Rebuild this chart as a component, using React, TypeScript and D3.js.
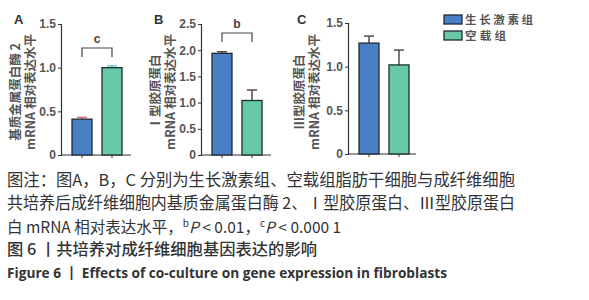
import React, { useEffect, useRef } from "react";
import * as d3 from "d3";

const categories = ["生长激素组", "空载组"];
const panelLetters = ["A", "B", "C"];
const growthHormone = [0.41, 1.94, 1.27];
const emptyVector = [1.0, 1.04, 1.02];
const errGrowth = [0.02, 0.03, 0.08];
const errEmpty = [0.02, 0.2, 0.17];
const yMax = [1.5, 2.5, 1.5];
const yTicks = [
  [0, 0.5, 1.0, 1.5],
  [0, 0.5, 1.0, 1.5, 2.0, 2.5],
  [0, 0.5, 1.0, 1.5],
];
const titleLine1 = ["基质金属蛋白酶 2", "Ⅰ型胶原蛋白", "Ⅲ型胶原蛋白"];
const titleLine2 = "mRNA 相对表达水平";
const sigLabels = ["c", "b", ""];
const captionLines = [
  "图注：图A，B，C 分别为生长激素组、空载组脂肪干细胞与成纤维细胞",
  "共培养后成纤维细胞内基质金属蛋白酶 2、Ⅰ型胶原蛋白、Ⅲ型胶原蛋白",
];
const captionLine3a = "白 mRNA 相对表达水平，";
const figTitleZh = "图 6 丨共培养对成纤维细胞基因表达的影响";
const figTitleEn = "Figure 6 丨 Effects of co-culture on gene expression in fibroblasts";

const BLUE = "#4a7fc6";
const GREEN = "#68c9a6";
const OUTLINE = "#1e2a36";

export default function App() {
  const ref = useRef<SVGSVGElement>(null);

  useEffect(() => {
    const svg = d3.select(ref.current);
    svg.selectAll("*").remove();

    const layout = [
      { ax: 61, top: 24, base: 155, xEnd: 131, t1: 15, t2: 30, letterX: 14 },
      { ax: 201, top: 24, base: 155, xEnd: 271, t1: 155, t2: 170, letterX: 154 },
      { ax: 348, top: 23, base: 154, xEnd: 416, t1: 299, t2: 314, letterX: 297 },
    ];
    const errColorsGH = ["#e0607a", "#5a4a44", "#5a4a44"];
    const errColorsEV = ["#6cc9c9", "#5a4a44", "#5a4a44"];

    layout.forEach((L, i) => {
      const g = svg.append("g");
      const y = d3.scaleLinear().domain([0, yMax[i]]).range([L.base, L.top]);
      const x = d3
        .scalePoint<string>()
        .domain(categories)
        .range([L.ax + 21, L.ax + 51]);
      const bw = 20;

      const axis = d3
        .axisLeft(y)
        .tickValues(yTicks[i])
        .tickSize(3)
        .tickFormat((d) => (+d === 0 ? "0" : d3.format(".1f")(+d)));
      const ag = g.append("g").attr("transform", `translate(${L.ax},0)`).call(axis);
      ag.select(".domain").attr("stroke", "#333").attr("stroke-width", 1.2);
      ag.selectAll(".tick line").attr("stroke", "#333");
      ag.selectAll(".tick text")
        .attr("font-family", "Arial, Liberation Sans, sans-serif")
        .attr("font-size", 12)
        .attr("font-weight", "bold")
        .attr("fill", "#555")
        .attr("x", -5);

      g.append("line")
        .attr("x1", L.ax)
        .attr("x2", L.xEnd)
        .attr("y1", L.base)
        .attr("y2", L.base)
        .attr("stroke", "#333")
        .attr("stroke-width", 1.2);
      categories.forEach((c) => {
        g.append("line")
          .attr("x1", x(c)!)
          .attr("x2", x(c)!)
          .attr("y1", L.base)
          .attr("y2", L.base + 3)
          .attr("stroke", "#333");
      });

      const vals = [growthHormone[i], emptyVector[i]];
      const errs = [errGrowth[i], errEmpty[i]];
      const fills = [BLUE, GREEN];
      const ecol = [errColorsGH[i], errColorsEV[i]];
      categories.forEach((c, k) => {
        const cx = x(c)!;
        g.append("line")
          .attr("x1", cx)
          .attr("x2", cx)
          .attr("y1", y(vals[k]))
          .attr("y2", y(vals[k] + errs[k]))
          .attr("stroke", ecol[k])
          .attr("stroke-width", 1.5);
        g.append("line")
          .attr("x1", cx - 5)
          .attr("x2", cx + 5)
          .attr("y1", y(vals[k] + errs[k]))
          .attr("y2", y(vals[k] + errs[k]))
          .attr("stroke", ecol[k])
          .attr("stroke-width", 1.5);
        g.append("rect")
          .attr("x", cx - bw / 2)
          .attr("y", y(vals[k]))
          .attr("width", bw)
          .attr("height", L.base - y(vals[k]))
          .attr("fill", fills[k])
          .attr("stroke", OUTLINE)
          .attr("stroke-width", 1.3);
      });

      if (sigLabels[i]) {
        const by = i === 0 ? 48 : 33;
        const x1 = x(categories[0])!;
        const x2 = x(categories[1])!;
        g.append("path")
          .attr("d", `M${x1},${by + 9}V${by}H${x2}V${by + 9}`)
          .attr("fill", "none")
          .attr("stroke", "#444")
          .attr("stroke-width", 1.2);
        g.append("text")
          .attr("x", (x1 + x2) / 2)
          .attr("y", by - 5)
          .attr("text-anchor", "middle")
          .attr("font-family", "Arial, Liberation Sans, sans-serif")
          .attr("font-size", 12)
          .attr("font-weight", "bold")
          .attr("fill", "#444")
          .text(sigLabels[i]);
      }

      g.append("text")
        .attr("x", L.letterX)
        .attr("y", 24)
        .attr("font-family", "Arial, Liberation Sans, sans-serif")
        .attr("font-size", 13)
        .attr("font-weight", "bold")
        .attr("fill", "#333")
        .text(panelLetters[i]);

      const cy = 92;
      [titleLine1[i], titleLine2].forEach((t, k) => {
        g.append("text")
          .attr(
            "transform",
            `translate(${(k === 0 ? L.t1 : L.t2) + 5},${cy}) rotate(-90)`
          )
          .attr("text-anchor", "middle")
          .attr("font-family", "Noto Sans CJK SC, sans-serif")
          .attr("font-size", 12.5)
          .attr("font-weight", "bold")
          .attr("fill", "#555")
          .text(t);
      });
    });

    const legend = svg.append("g");
    categories.forEach((c, k) => {
      legend
        .append("rect")
        .attr("x", 444)
        .attr("y", 15 + k * 16)
        .attr("width", 18)
        .attr("height", 9)
        .attr("fill", k === 0 ? BLUE : GREEN)
        .attr("stroke", OUTLINE)
        .attr("stroke-width", 1.3);
      legend
        .append("text")
        .attr("x", 465)
        .attr("y", 24 + k * 16)
        .attr("font-family", "Noto Sans CJK SC, sans-serif")
        .attr("font-size", 11.5)
        .attr("font-weight", "bold")
        .attr("fill", "#555")
        .attr("textLength", k === 0 ? 68 : 41)
        .attr("lengthAdjust", "spacing")
        .text(c);
    });

    const cap = svg.append("g").attr("font-family", "Noto Sans CJK SC, sans-serif").attr("fill", "#333");
    cap.append("text").attr("x", 7).attr("y", 186).attr("font-size", 16.5)
      .attr("textLength", 508).attr("lengthAdjust", "spacingAndGlyphs").text(captionLines[0]);
    cap.append("text").attr("x", 7).attr("y", 209).attr("font-size", 16.5)
      .attr("textLength", 508).attr("lengthAdjust", "spacingAndGlyphs").text(captionLines[1]);
    const t3 = cap.append("text").attr("x", 7).attr("y", 233).attr("font-size", 15.5);
    t3.append("tspan").text(captionLine3a);
    t3.append("tspan").attr("font-size", 10).attr("dy", -6).text("b");
    t3.append("tspan").attr("font-style", "italic").attr("dy", 6).text("P");
    t3.append("tspan").text(" < 0.01，");
    t3.append("tspan").attr("font-size", 10).attr("dy", -6).text("c");
    t3.append("tspan").attr("font-style", "italic").attr("dy", 6).text("P");
    t3.append("tspan").text(" < 0.000 1");
    cap.append("text").attr("x", 7).attr("y", 255).attr("font-size", 16)
      .attr("font-weight", 500).attr("textLength", 310).attr("lengthAdjust", "spacingAndGlyphs")
      .text(figTitleZh);
    cap.append("text").attr("x", 7).attr("y", 278).attr("font-size", 14)
      .attr("font-family", "Open Sans, sans-serif")
      .attr("font-weight", "bold").attr("textLength", 440).attr("lengthAdjust", "spacingAndGlyphs")
      .text(figTitleEn);
  }, []);

  return (
    <svg
      ref={ref}
      width={589}
      height={300}
      style={{ position: "absolute", left: 0, top: 0, background: "#fff" }}
    />
  );
}
